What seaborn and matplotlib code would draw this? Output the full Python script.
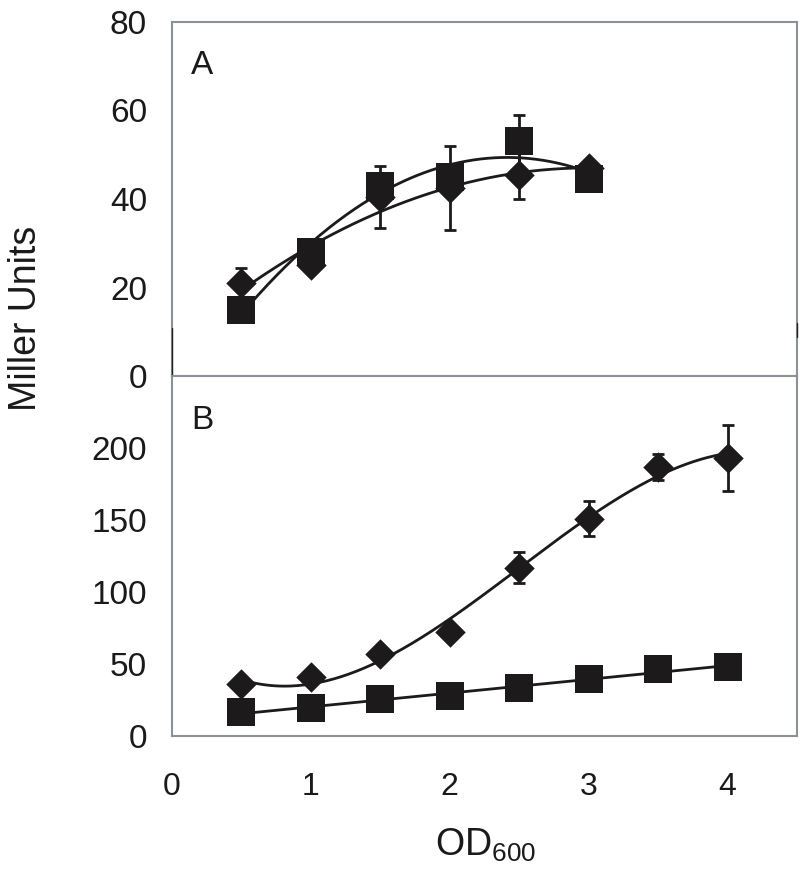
import numpy as np
import pandas as pd
import matplotlib
matplotlib.use("Agg")
import matplotlib.pyplot as plt
import seaborn as sns

sns.set_theme(style="white")
plt.rcParams['font.family'] = ['Liberation Sans', 'DejaVu Sans']
plt.rcParams['mathtext.default'] = 'regular'

# ---- data ----
od_a = [0.5, 1.0, 1.5, 2.0, 2.5, 3.0]
a_square = [15, 28, 43, 45, 53, 44.5]
a_square_err = [0, 0, 0, 0, 6, 0]
a_diamond = [21, 25, 40.5, 42.5, 45.5, 47]
a_diamond_err = [3.3, 0, 7, 9.5, 5.5, 0]

od_b = [0.5, 1.0, 1.5, 2.0, 2.5, 3.0, 3.5, 4.0]
b_square = [16.5, 19.5, 26, 28, 33.5, 39.5, 46.5, 48]
b_diamond = [36, 41, 57, 72, 117, 151, 187, 193]
b_diamond_err = [0, 0, 0, 0, 11, 12, 9, 23]

x_ticks = [0, 1, 2, 3, 4]
a_yticks = [0, 20, 40, 60, 80]
b_yticks = [0, 50, 100, 150, 200]

frame_col = '#8c9196'
tick_col = '#c8c8c8'
mk_col = '#1c1a1b'
LW = 2.0

fig = plt.figure(figsize=(8.0, 8.81), dpi=100)
L, R = 172 / 800, 797 / 800
axA = fig.add_axes([L, 1 - 376 / 881, R - L, (376 - 22) / 881])
axB = fig.add_axes([L, 1 - 736 / 881, R - L, (736 - 376) / 881])


def trend(x, y, deg, ax):
    c = np.polyfit(x, y, deg)
    xs = np.linspace(min(x), max(x), 200)
    df = pd.DataFrame({'x': xs, 'y': np.polyval(c, xs)})
    sns.lineplot(data=df, x='x', y='y', ax=ax, color=mk_col, lw=LW, zorder=2)


def errs(x, y, e, ax):
    xs = [a for a, b in zip(x, e) if b > 0]
    ys = [a for a, b in zip(y, e) if b > 0]
    es = [b for b in e if b > 0]
    ax.errorbar(xs, ys, yerr=es, fmt='none', ecolor=mk_col, elinewidth=LW,
                capsize=4.0, capthick=LW, zorder=1)


D_S = 15.5 ** 2
S_S = 19.5 ** 2

# Panel A
trend(od_a, a_square, 2, axA)
trend(od_a, a_diamond, 2, axA)
errs(od_a, a_square, a_square_err, axA)
errs(od_a, a_diamond, a_diamond_err, axA)
sns.scatterplot(x=od_a, y=a_diamond, marker='D', s=D_S, color=mk_col,
                edgecolor=mk_col, linewidth=0, ax=axA, zorder=3)
sns.scatterplot(x=od_a, y=a_square, marker='s', s=S_S, color=mk_col,
                edgecolor=mk_col, linewidth=0, ax=axA, zorder=3)

# Panel B
trend(od_b, b_diamond, 3, axB)
trend(od_b, b_square, 1, axB)
errs(od_b, b_diamond, b_diamond_err, axB)
sns.scatterplot(x=od_b, y=b_diamond, marker='D', s=D_S, color=mk_col,
                edgecolor=mk_col, linewidth=0, ax=axB, zorder=3)
sns.scatterplot(x=od_b, y=b_square, marker='s', s=S_S, color=mk_col,
                edgecolor=mk_col, linewidth=0, ax=axB, zorder=3)

for ax in (axA, axB):
    ax.set_xlim(0, 4.5)
    ax.set_xlabel('')
    ax.set_ylabel('')
    for s in ax.spines.values():
        s.set_color(frame_col)
        s.set_linewidth(1.5)
    ax.set_facecolor('white')

axA.set_ylim(0, 80)
axA.set_yticks(a_yticks)
axA.set_xticks(x_ticks[1:])
axA.tick_params(axis='x', direction='in', length=6, width=0.9, color='#555555',
                labelbottom=False)
axA.tick_params(axis='y', direction='out', length=7, width=0.8, color=tick_col,
                labelsize=24, pad=11, labelcolor='#1a1a1a')
# short dark segments at the lower ends of panel A's side borders
axA.axvline(0, ymin=0, ymax=0.135, color='#222222', lw=1.0, zorder=5, clip_on=False)
axA.axvline(4.5, ymin=0.11, ymax=0.15, color='#222222', lw=1.0, zorder=5, clip_on=False)

axB.set_ylim(0, 250)
axB.set_yticks(b_yticks)
axB.set_xticks(x_ticks)
axB.tick_params(axis='y', direction='out', length=7, width=0.8, color=tick_col,
                labelsize=24, pad=11, labelcolor='#1a1a1a')
axB.tick_params(axis='x', direction='out', length=8, width=0.8, color=tick_col,
                labelsize=23, pad=18, labelcolor='#1a1a1a')

axA.text(0.03, 0.92, 'A', transform=axA.transAxes, fontsize=24,
         ha='left', va='top', color='#1a1a1a')
axB.text(0.03, 0.92, 'B', transform=axB.transAxes, fontsize=24,
         ha='left', va='top', color='#1a1a1a')

fig.text(26 / 800, 1 - 318 / 881, 'Miller Units', rotation=90, fontsize=27,
         ha='center', va='center', color='#1a1a1a')
fig.text(486 / 800, 1 - 845 / 881, 'OD$_{600}$', fontsize=27,
         ha='center', va='center', color='#1a1a1a')

fig.savefig('out.png', dpi=100, facecolor='white')
